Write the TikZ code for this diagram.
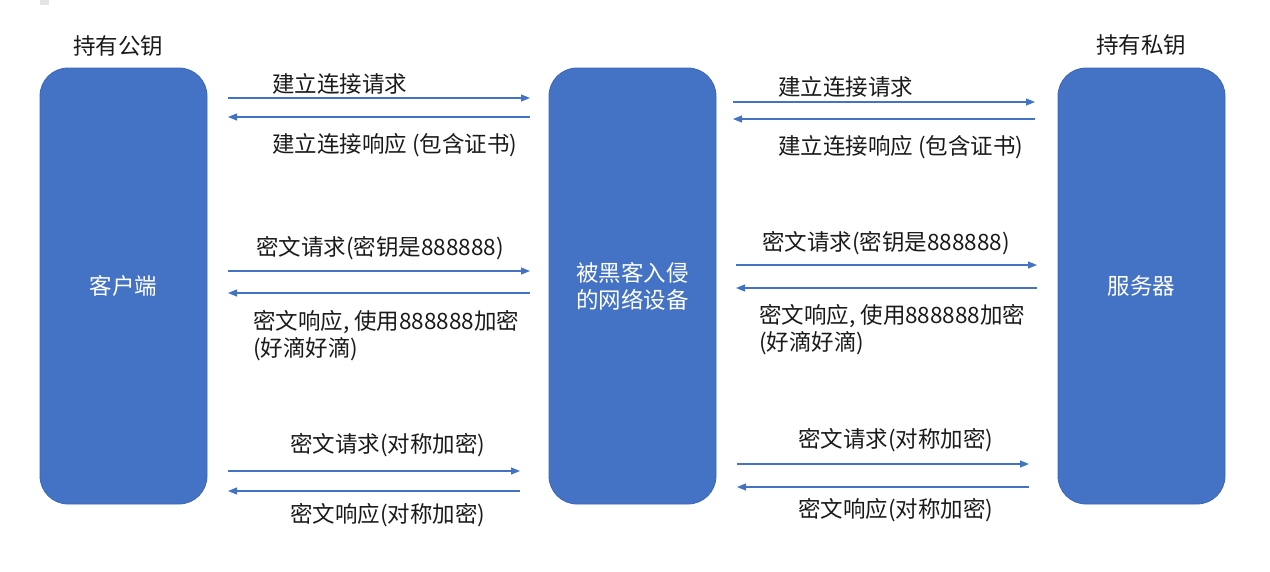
\documentclass[tikz,border=0pt]{standalone}
\usepackage{fontspec}
\setmainfont{Noto Sans CJK SC}
\usetikzlibrary{arrows.meta}
\definecolor{boxblue}{HTML}{4472C4}
\definecolor{boxedge}{HTML}{3C67B5}
\definecolor{txt}{HTML}{1A1A1A}
\definecolor{markgray}{HTML}{E4E4E4}
\begin{document}
\begin{tikzpicture}[x=1pt,y=-1pt,
  party/.style={draw=boxedge, line width=0.8pt, fill=boxblue, rounded corners=28pt,
    minimum width=167pt, minimum height=436pt, text=white,
    font=\fontsize{22.5}{27}\selectfont, align=center, inner sep=0pt},
  lbl/.style={anchor=west, inner sep=0pt, text=txt, font=\fontsize{22.5}{27}\selectfont, align=left},
  head/.style={inner sep=0pt, text=txt, font=\fontsize{22.5}{27}\selectfont},
  msg/.style={draw=boxblue, line width=1.1pt, -{Triangle[length=9pt,width=7pt]}},
]
\useasboundingbox (0,0) rectangle (1270,571);
\fill[markgray] (40,0) rectangle (49,5);

% parties
\node[party] (client) at (123.5,286) {客户端};
\node[party] (mitm) at (632.5,286) {被黑客入侵\\的网络设备};
\node[party] (server) at (1141.5,286) {服务器};
\node[head] (pub) at (118,46) {持有公钥};
\node[head] (priv) at (1141,45) {持有私钥};

% left arrow ends
\coordinate (l1a) at (228,98);  \coordinate (l1b) at (530,98);
\coordinate (l2a) at (530,117); \coordinate (l2b) at (228,117);
\coordinate (l3a) at (228,271); \coordinate (l3b) at (530,271);
\coordinate (l4a) at (530,293); \coordinate (l4b) at (228,293);
\coordinate (l5a) at (228,471); \coordinate (l5b) at (520,471);
\coordinate (l6a) at (520,491); \coordinate (l6b) at (228,491);
% right arrow ends
\coordinate (r1a) at (733,102);  \coordinate (r1b) at (1035,102);
\coordinate (r2a) at (1035,119); \coordinate (r2b) at (733,119);
\coordinate (r3a) at (736,265);  \coordinate (r3b) at (1037,265);
\coordinate (r4a) at (1037,288); \coordinate (r4b) at (736,288);
\coordinate (r5a) at (737,464);  \coordinate (r5b) at (1029,464);
\coordinate (r6a) at (1029,487); \coordinate (r6b) at (737,487);

\foreach \p in {l1,l2,l3,l4,l5,l6,r1,r2,r3,r4,r5,r6}
  \draw[msg] (\p a) -- (\p b);

% left labels
\node[lbl] (t1) at (272,84) {建立连接请求};
\node[lbl] (t2) at (272,145) {建立连接响应 (包含证书)};
\node[lbl] (t3) at (256,248) {密文请求(密钥是888888)};
\node[lbl] (t4) at (253,335.5) {密文响应, 使用888888加密\\(好滴好滴)};
\node[lbl] (t5) at (290,445) {密文请求(对称加密)};
\node[lbl] (t6) at (290,515) {密文响应(对称加密)};
% right labels
\node[lbl] (u1) at (778,87) {建立连接请求};
\node[lbl] (u2) at (778,147) {建立连接响应 (包含证书)};
\node[lbl] (u3) at (762,243) {密文请求(密钥是888888)};
\node[lbl] (u4) at (759,330) {密文响应, 使用888888加密\\(好滴好滴)};
\node[lbl] (u5) at (798,440) {密文请求(对称加密)};
\node[lbl] (u6) at (798,510) {密文响应(对称加密)};
\end{tikzpicture}
\end{document}
